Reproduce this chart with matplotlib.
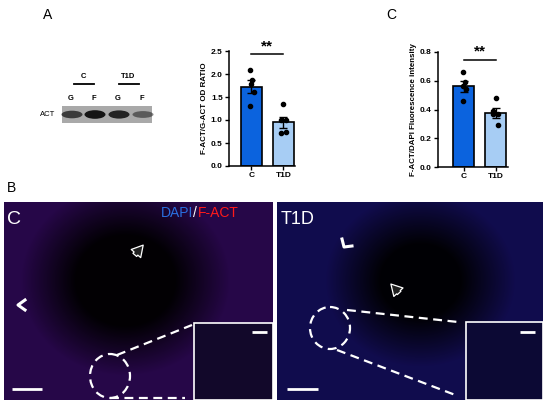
import numpy as np
import matplotlib
matplotlib.use("Agg")
import matplotlib.pyplot as plt
from matplotlib.patches import Ellipse, Rectangle

plt.rcParams['font.family'] = ['Liberation Sans', 'DejaVu Sans']

W, H = 550, 405

# ---------------- data ----------------
groups = ["C", "T1D"]
od_mean = [1.72, 0.95]
od_sem = [0.14, 0.12]
od_points = [[2.09, 1.88, 1.78, 1.61, 1.30], [1.35, 1.01, 0.99, 0.72, 0.73]]
od_ticks = [0.0, 0.5, 1.0, 1.5, 2.0, 2.5]

fl_mean = [0.56, 0.375]
fl_sem = [0.035, 0.035]
fl_points = [[0.66, 0.59, 0.56, 0.54, 0.46], [0.48, 0.39, 0.37, 0.37, 0.29]]
fl_ticks = [0.0, 0.2, 0.4, 0.6, 0.8]

blot_lanes = ["G", "F", "G", "F"]
blot_intensity = [0.70, 0.95, 0.85, 0.50]

bar_colors = ["#0b63de", "#a7cdf4"]
dot_jitter = [[-0.03, 0.03, -0.02, 0.08, -0.03], [0.0, -0.09, 0.09, -0.09, 0.09]]

fig = plt.figure(figsize=(W / 100, H / 100), dpi=100)


def ax_px(x0, y0, x1, y1, **kw):
    return fig.add_axes([x0 / W, 1 - y1 / H, (x1 - x0) / W, (y1 - y0) / H], **kw)


def bar_panel(ax, means, sems, points, ticks, ylim, xlim, ylabel, sig_y, star_y):
    x = np.arange(len(groups))
    ax.bar(x, means, width=0.66, color=bar_colors, edgecolor="black", linewidth=1.2, zorder=2)
    for i in x:
        ax.errorbar(i, means[i], yerr=sems[i], color="black", capsize=3, capthick=1.0,
                    elinewidth=1.0, zorder=3)
        ax.scatter(np.full(len(points[i]), i) + np.array(dot_jitter[i]), points[i],
                   s=9, color="black", zorder=4)
    ax.set_ylim(*ylim)
    ax.set_xlim(*xlim)
    ax.set_yticks(ticks)
    ax.set_xticks(x)
    ax.set_xticklabels(groups)
    for s in ["top", "right"]:
        ax.spines[s].set_visible(False)
    for s in ["left", "bottom"]:
        ax.spines[s].set_linewidth(1.1)
    ax.tick_params(labelsize=6, width=1.0, length=3, pad=1.5)
    for lab in ax.get_xticklabels() + ax.get_yticklabels():
        lab.set_fontweight("bold")
    ax.set_ylabel(ylabel, fontsize=5.7, fontweight="bold", labelpad=2)
    ax.plot([0, 1], [sig_y, sig_y], color="black", lw=1.1, clip_on=False)
    ax.text(0.5, star_y, "**", ha="center", va="center", fontsize=11, fontweight="bold")


axA = ax_px(229, 51, 295, 166)
bar_panel(axA, od_mean, od_sem, od_points, od_ticks, (0, 2.5), (-0.70, 1.36),
          "F-ACT/G-ACT OD RATIO", 2.43, 2.6)

axC = ax_px(438, 52, 508, 167)
bar_panel(axC, fl_mean, fl_sem, fl_points, fl_ticks, (0, 0.8), (-0.80, 1.39),
          "F-ACT/DAPI Fluorescence intensity", 0.745, 0.805)

# --------------- overlay axes in pixel coords -----------------
ov = fig.add_axes([0, 0, 1, 1], zorder=-1)
ov.set_xlim(0, W)
ov.set_ylim(H, 0)
ov.axis("off")

ov.text(48, 15, "A", fontsize=10, ha="center", va="center")
ov.text(391, 15, "C", fontsize=10, ha="center", va="center")
ov.text(12, 188, "B", fontsize=10, ha="center", va="center")

# western blot
ov.add_patch(Rectangle((62, 106), 90, 17, facecolor="#a9a9a9", edgecolor="none"))
band_x = [72, 95, 119, 143]
for bx, inten, lab in zip(band_x, blot_intensity, blot_lanes):
    ov.add_patch(Ellipse((bx, 114.5), 21, 8 * (0.6 + 0.5 * inten),
                         facecolor="#0c0c0c", alpha=inten, edgecolor="none"))
    ov.text(bx - 1, 98, lab, fontsize=5.5, fontweight="bold", ha="center", va="center")
ov.text(83, 76, "C", fontsize=5.5, fontweight="bold", ha="center", va="center")
ov.text(128, 76, "T1D", fontsize=5.5, fontweight="bold", ha="center", va="center")
ov.plot([74, 94], [84, 84], color="black", lw=1.3)
ov.plot([119, 139], [84, 84], color="black", lw=1.3)
ov.text(48, 115, "ACT", fontsize=5.5, ha="center", va="center")


# micrograph backgrounds (decorative gradient)
def micro_bg(x0, y0, x1, y1, cx, cy, r0, col):
    nx, ny = int(x1 - x0), int(y1 - y0)
    xx, yy = np.meshgrid(np.arange(nx) + x0, np.arange(ny) + y0)
    r = np.hypot(xx - cx, (yy - cy) * 1.1)
    t = np.clip((r - r0) / 55.0, 0, 1) * 0.9 + 0.05
    img = np.zeros((ny, nx, 3))
    for k in range(3):
        img[..., k] = t * col[k]
    ov.imshow(img, extent=(x0, x1, y1, y0), interpolation="bilinear", zorder=1)


micro_bg(4, 202, 273, 400, 125, 280, 50, (0.16, 0.03, 0.30))
micro_bg(277, 202, 543, 400, 420, 280, 40, (0.07, 0.05, 0.32))
ov.set_xlim(0, W)
ov.set_ylim(H, 0)

# insets
ov.add_patch(Rectangle((194, 323), 79, 77, facecolor="#12082a", edgecolor="white", lw=1.2, zorder=3))
ov.add_patch(Rectangle((466, 322), 77, 78, facecolor="#0c0934", edgecolor="white", lw=1.2, zorder=3))

# labels in images
ov.text(7, 220, "C", color="white", fontsize=14, ha="left", va="center", zorder=5)
ov.text(281, 220, "T1D", color="white", fontsize=13, ha="left", va="center", zorder=5)
ov.text(193, 213, "DAPI", color="#2a6fe0", fontsize=10, ha="right", va="center", zorder=5)
ov.text(193, 213, "/", color="white", fontsize=10, ha="left", va="center", zorder=5)
ov.text(198, 213, "F-ACT", color="#ff1a1a", fontsize=10, ha="left", va="center", zorder=5)

dash = dict(color="white", lw=1.6, ls=(0, (4, 2.5)), zorder=5)
# dashed circles
ov.add_patch(Ellipse((110, 376), 40, 44, facecolor="none", edgecolor="white", lw=1.6,
                     ls=(0, (4, 2.5)), zorder=5))
ov.add_patch(Ellipse((330, 328), 40, 42, facecolor="none", edgecolor="white", lw=1.6,
                     ls=(0, (4, 2.5)), zorder=5))
# dashed connectors
ov.plot([117, 192], [355, 325], **dash)
ov.plot([110, 185], [398, 398], **dash)
ov.plot([347, 458], [310, 322], **dash)
ov.plot([337, 458], [350, 396], **dash)

# scale bars
sb = dict(color="white", lw=2, solid_capstyle="butt", zorder=5)
ov.plot([12, 42], [389, 389], **sb)
ov.plot([287, 318], [389, 389], **sb)
ov.plot([252, 267], [332, 332], **sb)
ov.plot([520, 535], [332, 332], **sb)

# arrows and arrowheads
ov.annotate("", xy=(145, 243), xytext=(133, 257),
            arrowprops=dict(arrowstyle="simple,head_width=0.9,head_length=0.8,tail_width=0.35",
                            fc="#202020", ec="white", lw=0.9), zorder=6)
ov.annotate("", xy=(389, 282), xytext=(401, 295),
            arrowprops=dict(arrowstyle="simple,head_width=0.9,head_length=0.8,tail_width=0.35",
                            fc="#202020", ec="white", lw=0.9), zorder=6)
ov.plot([25, 18, 25], [300, 305, 310], color="white", lw=2.2, zorder=6)
ov.plot([342, 344, 352], [239, 247, 246], color="white", lw=2.2, zorder=6)

fig.savefig("out.png", dpi=100)
